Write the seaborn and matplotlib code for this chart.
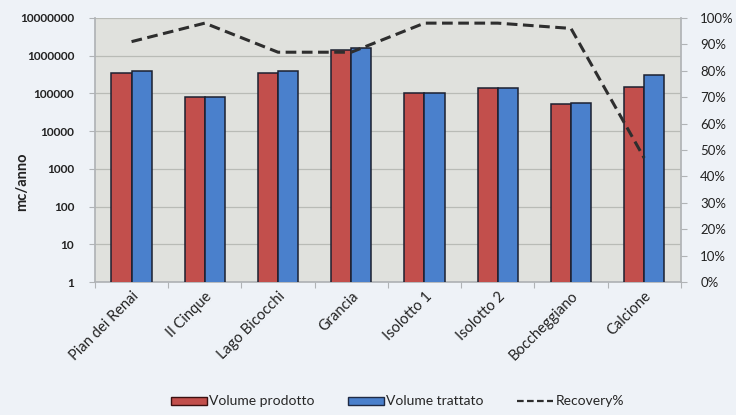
import matplotlib
matplotlib.use("Agg")
import matplotlib.pyplot as plt
import matplotlib.ticker as mticker
from matplotlib.lines import Line2D
from matplotlib.patches import Patch
import seaborn as sns
import pandas as pd

# Annual volumes (m3/year) and recovery rate per site
sites = ["Pian dei Renai", "Il Cinque", "Lago Bicocchi", "Grancia",
         "Isolotto 1", "Isolotto 2", "Boccheggiano", "Calcione"]
volume_prodotto = [350000, 80000, 350000, 1400000, 100000, 140000, 53000, 150000]
volume_trattato = [400000, 82000, 400000, 1600000, 100000, 140000, 56000, 310000]
recovery = [91, 98, 87, 87, 98, 98, 96, 47]

series_names = ["Volume prodotto", "Volume trattato"]
y_ticks = [1, 10, 100, 1000, 10000, 100000, 1000000, 10000000]

df = pd.DataFrame({
    "Sito": sites * 2,
    "Serie": [series_names[0]] * len(sites) + [series_names[1]] * len(sites),
    "Volume": volume_prodotto + volume_trattato,
})

sns.set_theme(style="white")
plt.rcParams["font.family"] = ["Lato", "DejaVu Sans"]

red = "#c24f4c"
blue = "#4a80cc"
fig_bg = "#eef2f7"
ax_bg = "#e0e1dd"
tick_grey = "#b0b3b6"

fig = plt.figure(figsize=(7.36, 4.15), dpi=100, facecolor=fig_bg)
ax = fig.add_axes([0.129, 0.320, 0.796, 0.637])
ax.set_facecolor(ax_bg)

sns.barplot(data=df, x="Sito", y="Volume", hue="Serie", order=sites,
            hue_order=series_names, palette=[red, blue], saturation=1,
            width=0.55, gap=0, edgecolor="#1c2030", linewidth=1.1, ax=ax,
            legend=False, zorder=3)
ax.set_yscale("log", nonpositive="clip")

ax.set_ylim(1, 1e7)
ax.set_yticks(y_ticks)
ax.yaxis.set_major_formatter(mticker.FuncFormatter(lambda v, p: f"{int(round(v))}"))
ax.yaxis.set_minor_locator(mticker.NullLocator())
ax.set_xlim(-0.5, len(sites) - 0.5)
ax.set_xticks(range(len(sites)))
ax.set_xticks([i + 0.5 for i in range(-1, len(sites))], minor=True)
ax.grid(axis="y", which="major", color="#b9bbb6", linewidth=0.9, zorder=0)
ax.set_axisbelow(True)
for s in ["top", "right"]:
    ax.spines[s].set_visible(False)
ax.spines["left"].set_color(tick_grey)
ax.spines["bottom"].set_color(tick_grey)
ax.tick_params(axis="y", labelsize=8.5, colors="#222222", length=4, width=0.8,
               color=tick_grey, pad=11, left=True)
ax.tick_params(axis="x", which="major", labelsize=10.5, colors="#222222", length=0, pad=5)
ax.tick_params(axis="x", which="minor", length=4, width=0.8, color=tick_grey, bottom=True)
for lab in ax.get_yticklabels():
    lab.set_fontweight("bold")
ax.set_xticklabels(sites, rotation=45, ha="right", rotation_mode="anchor")
ax.set_xlabel("")
ax.set_ylabel("mc/anno", fontsize=10.5, fontweight="bold", color="#222222")
ax.yaxis.set_label_coords(-0.112, 0.38)

# Recovery rate on the secondary axis
ax2 = ax.twinx()
sns.lineplot(x=list(range(len(sites))), y=recovery, ax=ax2, color="#2e2e2e",
             linewidth=2.2, linestyle=(0, (3.5, 1.8)), zorder=5)
ax2.set_ylim(0, 100)
ax2.set_yticks(range(0, 101, 10))
ax2.yaxis.set_major_formatter(mticker.FuncFormatter(lambda v, p: f"{int(v)}%"))
ax2.tick_params(axis="y", labelsize=9.5, colors="#222222", length=4, width=0.8,
                color=tick_grey, pad=10, right=True)
for s in ["top", "left", "bottom"]:
    ax2.spines[s].set_visible(False)
ax2.spines["right"].set_color(tick_grey)
ax2.set_ylabel("")

handles = [Patch(facecolor=red, edgecolor="#3a1010", label=series_names[0]),
           Patch(facecolor=blue, edgecolor="#1f2a44", label=series_names[1]),
           Line2D([0], [0], color="#2e2e2e", linewidth=1.6, linestyle=(0, (3, 1.5)),
                  label="Recovery%")]
fig.legend(handles=handles, loc="lower center", bbox_to_anchor=(0.54, -0.012), ncol=3,
           frameon=False, fontsize=10, handlelength=2.6, handleheight=0.5,
           handletextpad=0.15, columnspacing=2.4)

fig.savefig("out.png", dpi=100, facecolor=fig_bg)
